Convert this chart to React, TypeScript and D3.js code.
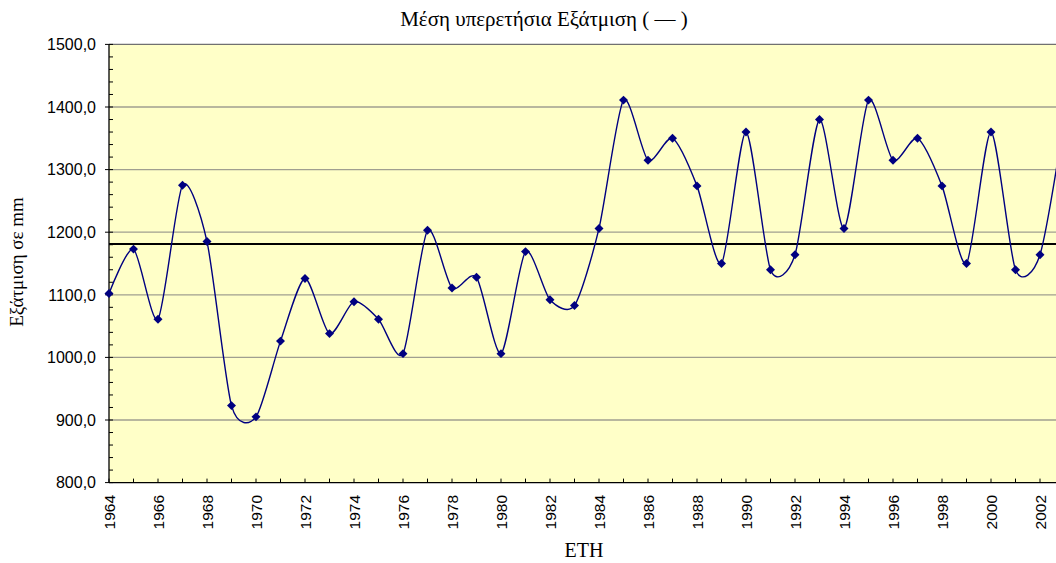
import * as d3 from "d3";
import { useEffect, useRef } from "react";

const years = [
  1964, 1965, 1966, 1967, 1968, 1969, 1970, 1971, 1972, 1973, 1974, 1975, 1976, 1977, 1978, 1979, 1980,
  1981, 1982, 1983, 1984, 1985, 1986, 1987, 1988, 1989, 1990, 1991, 1992, 1993, 1994, 1995, 1996, 1997,
  1998, 1999, 2000, 2001, 2002, 2003,
];
const evaporation = [
  1102, 1173, 1061, 1275, 1185, 923, 905, 1026, 1126, 1038, 1089, 1061, 1006, 1203, 1111, 1128, 1006,
  1169, 1092, 1083, 1206, 1411, 1315, 1350, 1274, 1150, 1360, 1140, 1164, 1380, 1206, 1411, 1315, 1350,
  1274, 1150, 1360, 1140, 1164, 1382,
];
const meanValue = 1181;
const yTicks = [800, 900, 1000, 1100, 1200, 1300, 1400, 1500];
const xTickYears = d3.range(1964, 2003, 2);

const title = "Μέση υπερετήσια Εξάτμιση ( — )";
const yTitle = "Εξάτμιση  σε mm";
const xTitle = "ΕΤΗ";

const SERIF = '"Liberation Serif", "DejaVu Serif", serif';
const SANS = '"Liberation Sans", Arial, sans-serif';

export default function App() {
  const ref = useRef<SVGSVGElement | null>(null);

  useEffect(() => {
    if (!ref.current) return;
    const W = 1056;
    const H = 563;
    const left = 109;
    const top = 44.4;
    const bottom = 482.6;

    const x = d3.scaleLinear().domain([1964, 2002]).range([left, 1040]);
    const y = d3.scaleLinear().domain([800, 1500]).range([bottom, top]);
    const right = x(2003) + 6;

    const svg = d3.select(ref.current);
    svg.selectAll("*").remove();
    svg.attr("width", W).attr("height", H);

    svg.append("rect").attr("width", W).attr("height", H).attr("fill", "#ffffff");

    // plot area
    svg
      .append("rect")
      .attr("x", left)
      .attr("y", top)
      .attr("width", right - left)
      .attr("height", bottom - top)
      .attr("fill", "#ffffc8");

    // gridlines
    svg
      .append("g")
      .selectAll("line")
      .data(yTicks.filter((t) => t > 800 && t < 1500))
      .join("line")
      .attr("x1", left)
      .attr("x2", right)
      .attr("y1", (d) => y(d))
      .attr("y2", (d) => y(d))
      .attr("stroke", "#a09f90")
      .attr("stroke-width", 1.3);

    svg
      .append("line")
      .attr("x1", left)
      .attr("x2", right)
      .attr("y1", top)
      .attr("y2", top)
      .attr("stroke", "#707070")
      .attr("stroke-width", 1.3);

    // mean line
    svg
      .append("line")
      .attr("x1", left)
      .attr("x2", right)
      .attr("y1", y(meanValue))
      .attr("y2", y(meanValue))
      .attr("stroke", "#000")
      .attr("stroke-width", 2);

    // axes
    const yAxis = svg.append("g");
    yAxis
      .append("line")
      .attr("x1", left)
      .attr("x2", left)
      .attr("y1", top)
      .attr("y2", bottom)
      .attr("stroke", "#000")
      .attr("stroke-width", 1.3);
    yAxis
      .selectAll("line.minor")
      .data(d3.range(800, 1501, 20))
      .join("line")
      .attr("class", "minor")
      .attr("x1", (d) => (d % 100 === 0 ? left - 4 : left))
      .attr("x2", left + 4)
      .attr("y1", (d) => y(d))
      .attr("y2", (d) => y(d))
      .attr("stroke", "#000");
    yAxis
      .selectAll("text")
      .data(yTicks)
      .join("text")
      .attr("x", 96)
      .attr("y", (d) => y(d))
      .attr("dy", "0.36em")
      .attr("text-anchor", "end")
      .style("font-family", SANS)
      .style("font-size", "16px")
      .text((d) => d3.format(".1f")(d).replace(".", ","));

    const xAxis = svg.append("g");
    xAxis
      .append("line")
      .attr("x1", left)
      .attr("x2", right)
      .attr("y1", bottom)
      .attr("y2", bottom)
      .attr("stroke", "#000")
      .attr("stroke-width", 1.3);
    xAxis
      .selectAll("line.tick")
      .data(d3.range(1964, 2004, 1))
      .join("line")
      .attr("class", "tick")
      .attr("x1", (d) => x(d))
      .attr("x2", (d) => x(d))
      .attr("y1", bottom)
      .attr("y2", bottom - 4)
      .attr("stroke", "#000");
    xAxis
      .selectAll("text")
      .data(xTickYears)
      .join("text")
      .attr("transform", (d) => `translate(${x(d)},495) rotate(-90)`)
      .attr("dy", "0.36em")
      .attr("text-anchor", "end")
      .style("font-family", SANS)
      .style("font-size", "15.5px")
      .text((d) => String(d));

    // series
    const pts = years.map((yr, i) => ({ yr, v: evaporation[i] }));
    const line = d3
      .line<(typeof pts)[0]>()
      .x((d) => x(d.yr))
      .y((d) => y(d.v))
      .curve(d3.curveCardinal.tension(0.25));

    svg
      .append("path")
      .datum(pts)
      .attr("fill", "none")
      .attr("stroke", "#000080")
      .attr("stroke-width", 1.4)
      .attr("d", line);

    svg
      .append("g")
      .selectAll("path")
      .data(pts)
      .join("path")
      .attr("transform", (d) => `translate(${x(d.yr)},${y(d.v)}) rotate(45)`)
      .attr("d", d3.symbol(d3.symbolSquare, 40)())
      .attr("fill", "#000080");

    // titles
    svg
      .append("text")
      .attr("x", 544)
      .attr("y", 26)
      .attr("text-anchor", "middle")
      .style("font-family", SERIF)
      .style("font-size", "21px")
      .text(title);

    svg
      .append("text")
      .attr("transform", "translate(23,262) rotate(-90)")
      .attr("text-anchor", "middle")
      .style("font-family", SERIF)
      .style("font-size", "19px")
      .text(yTitle);

    svg
      .append("text")
      .attr("x", 584)
      .attr("y", 557)
      .attr("text-anchor", "middle")
      .style("font-family", SERIF)
      .style("font-size", "20px")
      .text(xTitle);
  }, []);

  return (
    <div style={{ position: "fixed", left: 0, top: 0, width: 1056, height: 563, overflow: "hidden" }}>
      <svg ref={ref} style={{ display: "block" }} role="img" aria-label={title} />
    </div>
  );
}
